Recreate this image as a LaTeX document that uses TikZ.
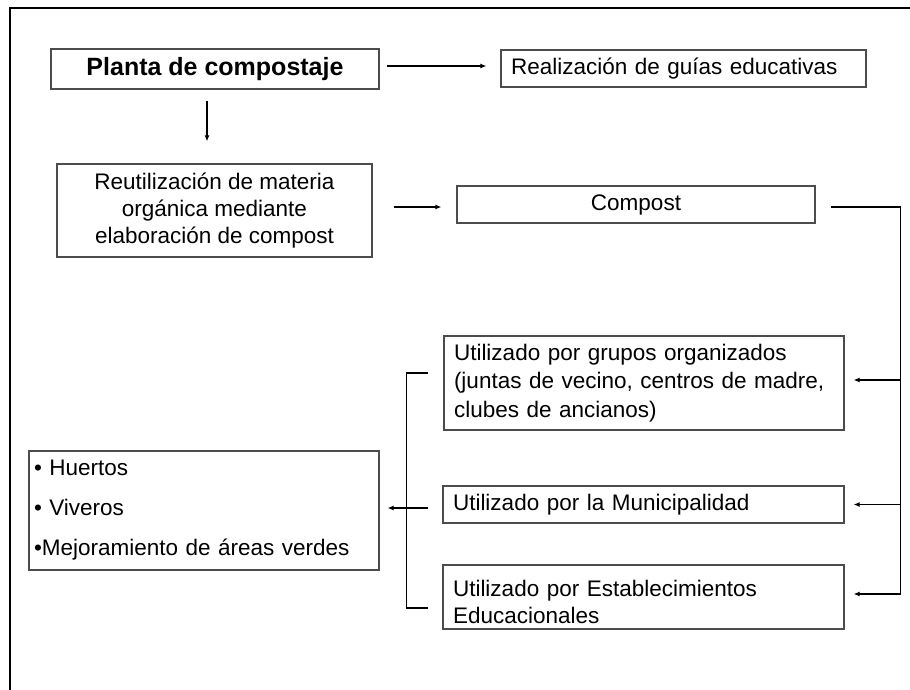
\documentclass[tikz,border=0pt]{standalone}
\usepackage{fontspec}
\setmainfont{Liberation Sans}
\usetikzlibrary{arrows.meta}
\begin{document}
\begin{tikzpicture}[x=1pt,y=-1pt,
  box/.style={draw=black!70, line width=1.3pt, inner sep=0pt, font=\fontsize{22.5}{28}\selectfont, text=black},
  conn/.style={draw=black, line width=1.1pt},
  arr/.style={conn, -{Latex[length=6pt,width=5pt]}},
]
\useasboundingbox (0,0) rectangle (910,690);
\fill[white] (0,0) rectangle (910,690);
\draw[line width=2.6pt] (10,695) -- (10,8) -- (915,8);

\node[box, minimum width=328pt, minimum height=40pt, font=\bfseries\fontsize{25}{30}\selectfont] (planta) at (215,69) {Planta de compostaje};
\node[box, minimum height=37pt, text width=345pt, inner xsep=10pt, align=left] (real) at (683.5,68.5) {Realización de guías educativas};
\node[box, minimum width=315pt, minimum height=93pt, align=center, font=\fontsize{22.5}{27}\selectfont] (reut) at (214.5,210.5) {Reutilización de materia\\orgánica mediante\\elaboración de compost};
\node[box, minimum width=358pt, minimum height=37pt] (compost) at (636,204.5) {Compost};
\node[box, minimum height=94pt, text width=380pt, inner xsep=10pt, align=left, font=\fontsize{22.5}{28.5}\selectfont] (grupos) at (644,383) {Utilizado por grupos organizados\\(juntas de vecino, centros de madre,\\clubes de ancianos)};
\node[box, minimum height=37pt, text width=381pt, inner xsep=10pt, align=left] (muni) at (643.5,504.5) {Utilizado por la Municipalidad};
\node[box, minimum height=64pt, text width=381pt, inner xsep=10pt, align=left, font=\fontsize{22.5}{27}\selectfont] (estab) at (643.5,597) {\rule{0pt}{26pt}Utilizado por Establecimientos\\Educacionales};
\node[box, minimum height=119pt, text width=340pt, inner xsep=5pt, align=left, font=\fontsize{22.5}{28}\selectfont] (huertos) at (204,510.5) {• Huertos\\[12pt]• Viveros\\[12pt]•Mejoramiento de áreas verdes};

% top connectors
\draw[arr, shorten <=7pt, shorten >=14pt] ([yshift=3pt]planta.east) -- ([yshift=3pt]planta.east -| real.west);
\draw[arr, shorten <=11pt, shorten >=22pt] ([xshift=-8pt]planta.south) -- ([xshift=-8pt]planta.south |- reut.north);
\draw[arr, shorten <=21pt, shorten >=15pt] ([yshift=-2.5pt]compost.west -| reut.east) -- ([yshift=-2.5pt]compost.west);

% right bus
\coordinate (rt) at ([xshift=85pt,yshift=-2.5pt]compost.east);
\coordinate (ga) at ([yshift=3pt]grupos.east);
\coordinate (ma) at (muni.east);
\coordinate (ea) at ([yshift=3pt]estab.east);
\draw[conn, shorten <=15pt] ([yshift=-2.5pt]compost.east) -- (rt) -- (rt |- ea);
\draw[arr, shorten >=9pt] (rt |- ga) -- (ga);
\draw[arr, shorten >=9pt] (rt |- ma) -- (ma);
\draw[arr, shorten >=9pt] (rt |- ea) -- (ea);

% left bracket
\coordinate (g1) at ([xshift=-15pt,yshift=10pt]grupos.west);
\coordinate (e1) at ([xshift=-14pt,yshift=-11pt]estab.west);
\draw[conn] (g1) -- ++(-22,0) |- (e1);
\draw[arr, shorten <=14pt, shorten >=8pt] ([yshift=-3.5pt]muni.west) -- ([yshift=-3.5pt]muni.west -| huertos.east);
\end{tikzpicture}
\end{document}
